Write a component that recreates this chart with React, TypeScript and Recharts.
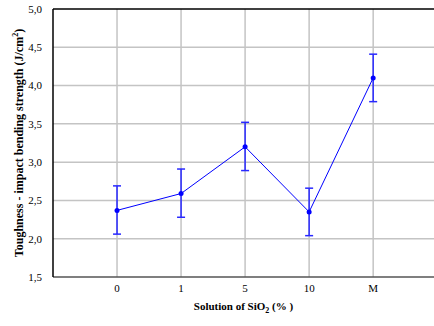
import React from "react";
import { LineChart, Line, XAxis, YAxis, ErrorBar, ReferenceLine } from "recharts";

const categories = ["0", "1", "5", "10", "M"];
const means = [2.37, 2.59, 3.2, 2.35, 4.1];
const lows = [2.06, 2.28, 2.89, 2.04, 3.79];
const highs = [2.69, 2.91, 3.52, 2.66, 4.41];
const yTicks = [1.5, 2.0, 2.5, 3.0, 3.5, 4.0, 4.5, 5.0];

const data = categories.map((c, i) => ({
  x: i,
  y: means[i],
  err: [means[i] - lows[i], highs[i] - means[i]],
}));

const FONT = "Liberation Serif";
const GRID = "#c4c4c4";

export default function App() {
  return (
    <div style={{ position: "absolute", left: 0, top: 0, fontFamily: FONT }}>
      <LineChart width={434} height={326} data={data} margin={{ top: 9, right: 0, left: 8, bottom: 0 }}>
        <XAxis
          type="number"
          dataKey="x"
          domain={[-1, 4.95]}
          ticks={[0, 1, 2, 3, 4]}
          tickFormatter={(v: number) => categories[v]}
          axisLine={{ stroke: "#555", strokeWidth: 1.5 }}
          tickLine={false}
          tickMargin={1}
          height={49}
          tick={{ fill: "#000", fontSize: 11, fontFamily: FONT }}
          label={(props: any) => (
            <text
              x={243.5}
              y={310}
              textAnchor="middle"
              fontFamily={FONT}
              fontWeight="bold"
              fontSize={11}
              fill="#000"
            >
              Solution of SiO
              <tspan fontSize={8} dy={3}>2</tspan>
              <tspan dy={-3}> (% )</tspan>
            </text>
          )}
        />
        <YAxis
          type="number"
          domain={[1.5, 5]}
          ticks={yTicks}
          interval={0}
          tickFormatter={(v: number) => v.toFixed(1).replace(".", ",")}
          axisLine={{ stroke: "#000", strokeWidth: 1.5 }}
          tickLine={false}
          tickMargin={5}
          width={45}
          tick={{ fill: "#000", fontSize: 11, fontFamily: FONT }}
          label={(props: any) => (
            <text
              x={0}
              y={0}
              transform="translate(23,143) rotate(-90)"
              textAnchor="middle"
              fontFamily={FONT}
              fontWeight="bold"
              fontSize={12}
              fill="#000"
            >
              Toughness - impact bending strength (J/cm
              <tspan fontSize={8} dy={-5}>2</tspan>
              <tspan dy={5}>)</tspan>
            </text>
          )}
        />
        {yTicks.slice(1, -1).map((t) => (
          <ReferenceLine key={"h" + t} y={t} stroke={GRID} strokeWidth={1.5} ifOverflow="visible" />
        ))}
        {categories.map((c, i) => (
          <ReferenceLine key={"v" + c} x={i} stroke={GRID} strokeWidth={1.5} ifOverflow="visible" />
        ))}
        <ReferenceLine y={5} stroke="#000" strokeWidth={1.5} />
        <Line
          type="linear"
          dataKey="y"
          stroke="#0000ff"
          strokeWidth={1}
          dot={{ r: 2.5, fill: "#0000ff", stroke: "#0000ff", strokeWidth: 0 }}
          isAnimationActive={false}
        >
          <ErrorBar dataKey="err" width={4} stroke="#2828ff" strokeWidth={1.5} direction="y" />
        </Line>
      </LineChart>
    </div>
  );
}
